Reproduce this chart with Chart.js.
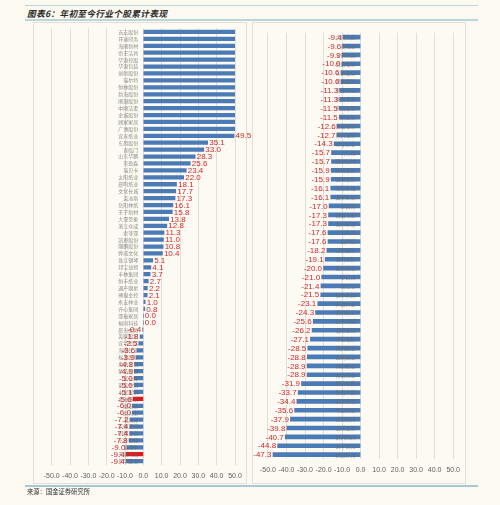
<!DOCTYPE html>
<html>
<head>
<meta charset="utf-8">
<script src="https://cdn.jsdelivr.net/npm/chart.js@4/dist/chart.umd.min.js"></script>
<style>
  html, body { margin: 0; padding: 0; }
  body { width: 500px; height: 505px; background: #fcf9f0; position: relative; overflow: hidden;
         font-family: "Noto Sans CJK SC", sans-serif; }
  .rule { position: absolute; left: 25px; width: 453px; background: #b9d6dc; }
  #title { position: absolute; left: 27px; top: 7px; font-size: 8.7px; font-weight: bold; font-style: italic;
           color: #2b2b2b; letter-spacing: 0.3px; }
  #source { position: absolute; left: 27px; top: 487px; font-size: 6.3px; color: #333; }
  .panel { position: absolute; top: 22px; width: 214px; height: 462px; border: 1px solid #e4e0d6;
           box-sizing: border-box; background: #fdfaf3; overflow: visible; }
  .panel canvas { position: absolute; left: 0; top: 0; }
</style>
</head>
<body>
<div class="rule" style="top:5px;height:1px;"></div>
<div id="title">图表6：年初至今行业个股累计表现</div>
<div class="rule" style="top:19px;height:2px;"></div>
<div class="panel" style="left:33px;"><canvas id="left" width="220" height="470"></canvas></div>
<div class="panel" style="left:252px;"><canvas id="right" width="214" height="470"></canvas></div>
<div class="rule" style="top:485px;height:1.5px;background:#a9c7d6;"></div>
<div id="source">来源：国金证券研究所</div>

<script>
// ---- data ----
const xTicks = [-50, -40, -30, -20, -10, 0, 10, 20, 30, 40, 50];

const leftNames = [
  '吉宏股份', '环球印务', '海顺新材', '帝王洁具', '华源控股', '华源包装', '创新股份', '瑞尔特',
  '恒林股份', '新海股份', '顺灏股份', '中顺洁柔', '金城股份', '顾家家居', '广博股份', '宜宾纸业',
  '东风股份', '喜临门', '山东华鹏', '美盈森', '瑞贝卡', '太阳纸业', '晨鸣纸业', '文化长城',
  '英派斯', '岳阳林纸', '王子新材', '大亚圣象', '浙江众成', '索菲亚', '凯恩股份', '丽鹏股份',
  '骅威文化', '珠江钢琴', '邦宝益智', '丰林集团', '恒丰纸业', '通产丽星', '熊猫金控', '永安林业',
  '齐心集团', '亚振家居', '裕同科技', '晨光文具', '英联股份', '宜华生活', '海鸥住工', '松发股份',
  '惠达卫浴', '梦洁股份', '富安娜', '罗莱生活', '水星家纺', '金洲慈航', '潮宏基', '周大生',
  '老凤祥', '莱绅通灵', '明牌珠宝', '东方金钰', '爱迪尔', '天创时尚', '萃华珠宝'
];
// first 15 run past the 50 axis limit, so their labels are cut off in the source
const leftValues = [
  172.3, 131.0, 113.5, 103.4, 92.6, 85.2, 78.9, 74.6, 70.1, 66.8, 62.5, 58.3, 56.1, 54.0, 51.7, 49.5,
  35.1, 33.0, 28.3, 25.6, 23.4, 22.0, 18.1, 17.7, 17.3, 16.1, 15.8, 13.8, 12.8, 11.3, 11.0, 10.8,
  10.4, 5.1, 4.1, 3.7, 2.7, 2.2, 2.1, 1.0, 0.8, 0.0, 0.0, -0.4, -1.8, -2.5, -3.6, -3.9,
  -4.8, -4.9, -5.0, -5.0, -5.1, -5.6, -6.0, -6.0, -7.2, -7.4, -7.4, -7.8, -9.0, -9.4, -9.4
];
const leftHighlight = ['金洲慈航', '天创时尚'];

const rightNames = [
  '合兴包装', '奥瑞金', '宝钢包装', '劲嘉股份', '东港股份', '鸿博股份', '界龙实业', '陕西金叶',
  '永吉股份', '新宏泽', '集友股份', '昇兴股份', '紫江企业', '大东南', '双星新材', '永新股份',
  '安妮股份', '浙江永强', '曲美家居', '好莱客', '尚品宅配', '我乐家居', '江山欧派', '皮阿诺',
  '志邦股份', '金牌厨柜', '欧派家居', '梦百合', '兔宝宝', '德尔未来', '升达林业', '吉林森工',
  '民丰特纸', '冠豪高新', '华泰股份', '景兴纸业', '山鹰纸业', '博汇纸业', '青山纸业', '银鸽投资',
  '珠海中富', '美克家居', '中源家居', '创源文化', '高乐股份', '群兴玩具', '实丰文化', '姚记扑克'
];
const rightValues = [
  -9.4, -9.6, -9.9, -10.0, -10.6, -10.6, -11.3, -11.3, -11.5, -11.5, -12.6, -12.7, -14.3, -15.7, -15.7, -15.9,
  -15.9, -16.1, -16.1, -17.0, -17.3, -17.3, -17.6, -17.6, -18.2, -19.1, -20.0, -21.0, -21.4, -21.5, -23.1, -24.3,
  -25.6, -26.2, -27.1, -28.5, -28.8, -28.9, -28.9, -31.9, -33.7, -34.4, -35.6, -37.9, -39.8, -40.7, -44.8, -47.3
];

const BLUE = '#4a7bb7';
const RED = '#e3161b';
const LABEL_RED = '#d0282b';

// draws stock names at the zero line (on top of the bars) and value labels at bar ends
const barLabels = {
  id: 'barLabels',
  afterDatasetsDraw(chart) {
    const { ctx, scales: { x, y } } = chart;
    const vals = chart.data.datasets[0].data;
    const zero = x.getPixelForValue(0);
    ctx.save();
    ctx.textBaseline = 'middle';

    ctx.font = '5px "Noto Sans CJK SC"';
    ctx.fillStyle = 'rgba(105,105,105,0.75)';
    ctx.textAlign = 'right';
    chart.data.labels.forEach((name, i) => ctx.fillText(name, zero - 5, y.getPixelForValue(i)));

    ctx.font = '8px "Liberation Sans Narrow", "Liberation Sans", sans-serif';
    ctx.fillStyle = LABEL_RED;
    vals.forEach((v, i) => {
      if (v > x.max || v < x.min) return;
      const px = x.getPixelForValue(v);
      const py = y.getPixelForValue(i) + 0.5;
      if (v >= 0) {
        ctx.textAlign = 'left';
        ctx.fillText(v.toFixed(1), px + 1.5, py);
      } else {
        ctx.textAlign = 'right';
        ctx.fillText(v.toFixed(1), px - 1.5, py);
      }
    });
    ctx.restore();
  }
};

function makeChart(canvas, names, values, highlight, thickness, padding) {
  return new Chart(canvas, {
    type: 'bar',
    data: {
      labels: names,
      datasets: [{
        data: values,
        backgroundColor: names.map(n => highlight.includes(n) ? RED : BLUE),
        barThickness: thickness,
        borderWidth: 0,
      }],
    },
    options: {
      indexAxis: 'y',
      responsive: false,
      animation: false,
      events: [],
      layout: { padding },
      plugins: { legend: { display: false }, tooltip: { enabled: false } },
      scales: {
        x: {
          min: -50,
          max: 50,
          afterBuildTicks: axis => { axis.ticks = xTicks.map(v => ({ value: v })); },
          ticks: {
            color: '#5e5e5e',
            font: { family: 'Liberation Sans', size: 7 },
            padding: 7,
            autoSkip: false,
            maxRotation: 0,
            callback: v => Number(v).toFixed(1),
          },
          grid: { color: '#e2ded4', lineWidth: 1, drawTicks: false },
          border: { display: false },
        },
        y: { display: false },
      },
    },
    plugins: [barLabels],
  });
}

makeChart(document.getElementById('left'), leftNames, leftValues, leftHighlight, 3.6,
  { left: 17.7, right: 19, top: 5.5, bottom: 6 });
makeChart(document.getElementById('right'), rightNames, rightValues, [], 4,
  { left: 12, right: 12, top: 9.7, bottom: 11.5 });
</script>
</body>
</html>
